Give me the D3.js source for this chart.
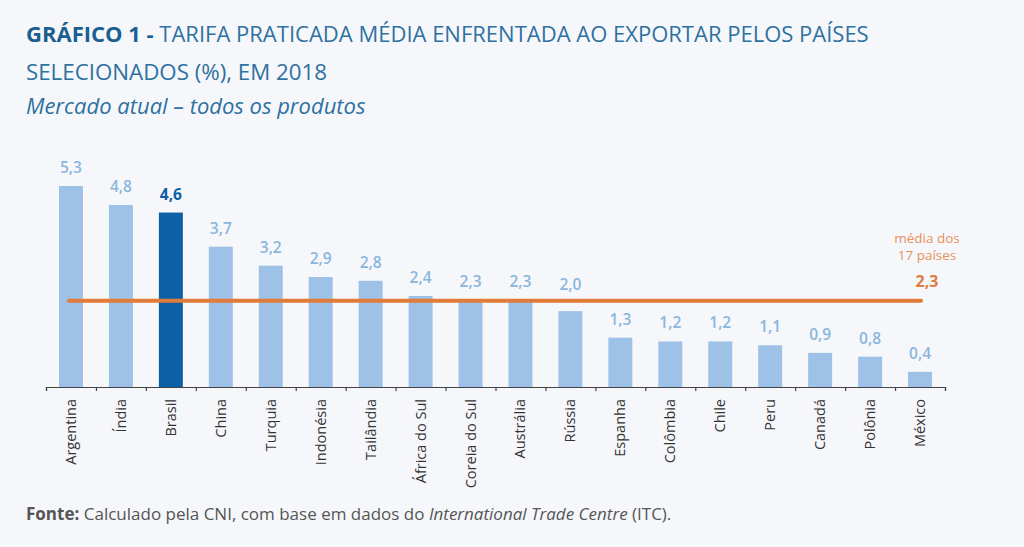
<!DOCTYPE html>
<html>
<head>
<meta charset="utf-8">
<script src="https://cdn.jsdelivr.net/npm/d3@7"></script>
<style>
  html, body { margin: 0; padding: 0; background: #f6f7fb; }
  svg { display: block; font-family: "Open Sans", "Noto Sans", sans-serif; }
</style>
</head>
<body>
<svg id="chart" width="1024" height="547"></svg>
<script>
const categories = ["Argentina","Índia","Brasil","China","Turquia","Indonésia","Tailândia","África do Sul","Coreia do Sul","Austrália","Rússia","Espanha","Colômbia","Chile","Peru","Canadá","Polônia","México"];
const values = [5.3,4.8,4.6,3.7,3.2,2.9,2.8,2.4,2.3,2.3,2.0,1.3,1.2,1.2,1.1,0.9,0.8,0.4];
const highlight = ["Brasil"];
const averageValue = 2.3;
const averageLabel = ["média dos", "17 países"];

const svg = d3.select("#chart");
const fmt = v => d3.format(".1f")(v).replace(".", ",");

const x = d3.scaleBand().domain(categories).range([46, 945]).paddingInner(0.52).paddingOuter(0.26);
const y = d3.scaleLinear().domain([0, 5.3]).range([387, 186]);

// Title
const t1 = svg.append("text").attr("x", 26).attr("y", 42).attr("font-size", 22).attr("fill", "#2e71a0");
t1.append("tspan").attr("font-weight", 700).attr("fill", "#1b5f92").text("GRÁFICO 1 - ");
t1.append("tspan").text("TARIFA PRATICADA MÉDIA ENFRENTADA AO EXPORTAR PELOS PAÍSES");
svg.append("text").attr("x", 26).attr("y", 80).attr("font-size", 22.3).attr("fill", "#2e71a0")
  .text("SELECIONADOS (%), EM 2018");
svg.append("text").attr("x", 26).attr("y", 114).attr("font-size", 22).attr("font-style", "italic").attr("fill", "#2e71a0")
  .text("Mercado atual – todos os produtos");

// Bars
svg.append("g").selectAll("rect").data(categories).join("rect")
  .attr("x", d => x(d))
  .attr("width", x.bandwidth())
  .attr("y", (d, i) => y(values[i]))
  .attr("height", (d, i) => y(0) - y(values[i]))
  .attr("fill", d => highlight.includes(d) ? "#0d5fa6" : "#9dc1e7");

// Value labels (raised above the average line when they would overlap it)
const lineY = y(averageValue);
const labelY = v => {
  const ly = y(v) - 13;
  return (ly > lineY - 6 && ly < lineY + 16) ? lineY - 10 : ly;
};
svg.append("g").selectAll("text").data(categories).join("text")
  .attr("x", d => x(d) + x.bandwidth() / 2)
  .attr("y", (d, i) => labelY(values[i]))
  .attr("text-anchor", "middle")
  .attr("font-size", 15.5)
  .attr("font-weight", d => highlight.includes(d) ? 700 : 600)
  .attr("fill", d => highlight.includes(d) ? "#0d5fa6" : "#8ab6dd")
  .text((d, i) => fmt(values[i]));

// Axis
const xAxis = d3.axisBottom(d3.scaleLinear().domain([0, categories.length]).range([46, 945]))
  .tickValues(d3.range(categories.length + 1)).tickSize(4).tickFormat("");
const ax = svg.append("g").attr("transform", "translate(0,387)").call(xAxis);
ax.select(".domain").attr("stroke", "#444").attr("stroke-width", 1.2);
ax.selectAll(".tick line").attr("stroke", "#444").attr("stroke-width", 1.2);

// Category labels
svg.append("g").selectAll("text").data(categories).join("text")
  .attr("transform", d => `translate(${x(d) + x.bandwidth() / 2 + 5},399) rotate(-90)`)
  .attr("text-anchor", "end")
  .attr("font-size", 14.5)
  .attr("fill", "#333")
  .text(d => d);

// Average line
const first = categories[0], last = categories[categories.length - 1];
svg.append("line")
  .attr("x1", x(first) + x.bandwidth() / 2 - 2)
  .attr("x2", x(last) + x.bandwidth() / 2 + 1)
  .attr("y1", lineY + 1).attr("y2", lineY + 1)
  .attr("stroke", "#e07b39").attr("stroke-width", 4).attr("stroke-linecap", "round");

const ax0 = x(last) + x.bandwidth() / 2 + 7;
svg.append("g").selectAll("text").data(averageLabel).join("text")
  .attr("x", ax0).attr("y", (d, i) => 243 + i * 17)
  .attr("text-anchor", "middle").attr("font-size", 13.5).attr("fill", "#e8925a")
  .text(d => d);
svg.append("text").attr("x", ax0).attr("y", 287).attr("text-anchor", "middle")
  .attr("font-size", 16).attr("font-weight", 700).attr("fill", "#e07b39").text(fmt(averageValue));

// Footer
const f = svg.append("text").attr("x", 26).attr("y", 520).attr("font-size", 17).attr("fill", "#555");
f.append("tspan").attr("font-weight", 700).text("Fonte:");
f.append("tspan").text(" Calculado pela CNI, com base em dados do ");
f.append("tspan").attr("font-style", "italic").text("International Trade Centre");
f.append("tspan").text(" (ITC).");
</script>
</body>
</html>
